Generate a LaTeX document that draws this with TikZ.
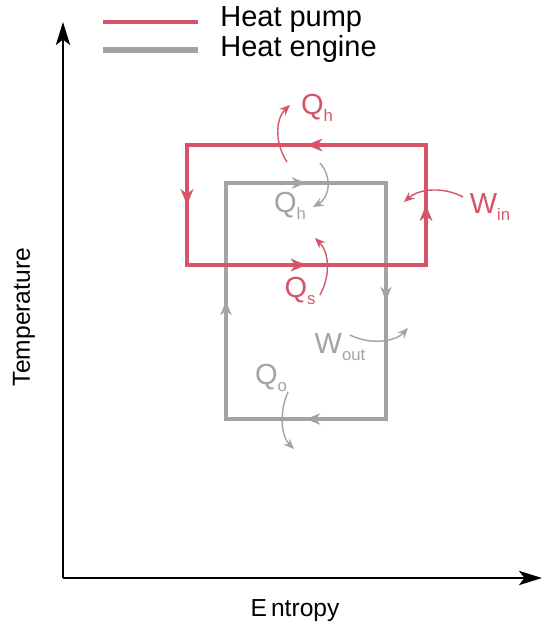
\documentclass[tikz,border=0pt]{standalone}
\usepackage{fontspec}
\setmainfont{Liberation Sans}
\usetikzlibrary{arrows.meta,decorations.markings}
\definecolor{pumpred}{RGB}{213,84,104}
\definecolor{enginegray}{RGB}{163,163,163}
\newcommand{\lowsub}[1]{\raisebox{-0.45ex}{\fontsize{9.5}{10}\selectfont #1}}

\begin{document}
\begin{tikzpicture}[
          x=0.02cm, y=-0.02cm,
          pump/.style={draw=pumpred, line width=2.8pt, line cap=rect},
          engine/.style={draw=enginegray, line width=2.2pt, line cap=rect},
          midarrow/.style={postaction={decorate},
                           decoration={markings,
                             mark=at position 0.5 with {\arrow{Stealth[length=#1,width=0.8*#1,inset=0.3*#1]}}}},
          midarrow/.default=9pt,
          flow/.style={line width=0.8pt, -{Stealth[length=6pt,width=5pt,inset=2pt]}},
          axis/.style={line width=1.6pt, -{Stealth[length=13pt,width=8pt,inset=3pt]}},
          lbl/.style={font=\fontsize{14}{17}\selectfont, inner sep=0pt},
          big/.style={font=\fontsize{16.5}{19}\selectfont, inner sep=0pt}]
        \useasboundingbox (0,0) rectangle (543,630);
        % axes
        \coordinate (origin) at (63,578);
        \coordinate (ytop) at (63,22);
        \coordinate (xend) at (542,578);
        \draw[axis] (origin) -- (ytop);
        \draw[axis] (origin) -- (xend);
        \node[lbl, rotate=90] (temp) at (24,317) {Temperature};
        \node[lbl] (entropy) at (295,611) {E\,ntropy};
        % legend
        \coordinate (lp1) at (103,22);
        \coordinate (lp2) at (198,22);
        \coordinate (le1) at (103,50);
        \coordinate (le2) at (198,50);
        \draw[pump, line cap=butt] (lp1) -- (lp2);
        \draw[engine, line width=3pt, line cap=butt] (le1) -- (le2);
        \node[big, anchor=west] (pumptxt) at (220,20) {Heat pump};
        \node[big, anchor=west] (enginetxt) at (220,49) {Heat engine};
        % heat engine cycle
        \coordinate (e1) at (226,183);
        \coordinate (e2) at (386,183);
        \coordinate (e3) at (386,419);
        \coordinate (e4) at (226,419);
        \draw[engine, midarrow=8pt, enginegray] (e1) -- (e2);
        \draw[engine, midarrow=8pt, enginegray] (e2) -- (e3);
        \draw[engine, midarrow=8pt, enginegray] (e3) -- (e4);
        \draw[engine, midarrow=8pt, enginegray] (e4) -- (e1);
        % heat pump cycle
        \coordinate (p1) at (426,145);
        \coordinate (p2) at (187,145);
        \coordinate (p3) at (187,265);
        \coordinate (p4) at (426,265);
        \draw[pump, midarrow, pumpred] (p1) -- (p2);
        \draw[pump, midarrow, pumpred] (p2) -- (p3);
        \draw[pump, midarrow, pumpred] (p3) -- (p4);
        \draw[pump, midarrow, pumpred] (p4) -- (p1);
        % labels
        \node[big, text=pumpred] (qhp) at (317,108) {Q\lowsub{h}};
        \node[big, text=enginegray] (qhe) at (290,206) {Q\lowsub{h}};
        \node[big, text=pumpred] (qs) at (300,291) {Q\lowsub{s}};
        \node[big, text=pumpred] (win) at (490,207) {W\lowsub{in}};
        \node[big, text=enginegray] (wout) at (340,347) {W\lowsub{out}};
        \node[big, text=enginegray] (qo) at (271,378) {Q\lowsub{o}};
        % heat and work flows
        \coordinate (qhp0) at (287,162);
        \coordinate (qhp1) at (290,105);
        \coordinate (qhe0) at (320,163);
        \coordinate (qhe1) at (313,207);
        \coordinate (qs0) at (320,295);
        \coordinate (qs1) at (315,238);
        \coordinate (win0) at (463,197);
        \coordinate (win1) at (404,202);
        \coordinate (wout0) at (350,335);
        \coordinate (wout1) at (408,328);
        \coordinate (qo0) at (288,392);
        \coordinate (qo1) at (294,449);
        \draw[flow, pumpred] (qhp0) .. controls (273,140) and (277,117) .. (qhp1);
        \draw[flow, enginegray] (qhe0) .. controls (333,178) and (329,198) .. (qhe1);
        \draw[flow, pumpred] (qs0) .. controls (331,275) and (329,252) .. (qs1);
        \draw[flow, pumpred] (win0) .. controls (445,187) and (420,188) .. (win1);
        \draw[flow, enginegray] (wout0) .. controls (370,345) and (395,342) .. (wout1);
        \draw[flow, enginegray] (qo0) .. controls (279,412) and (281,436) .. (qo1);
      \end{tikzpicture}
\end{document}
